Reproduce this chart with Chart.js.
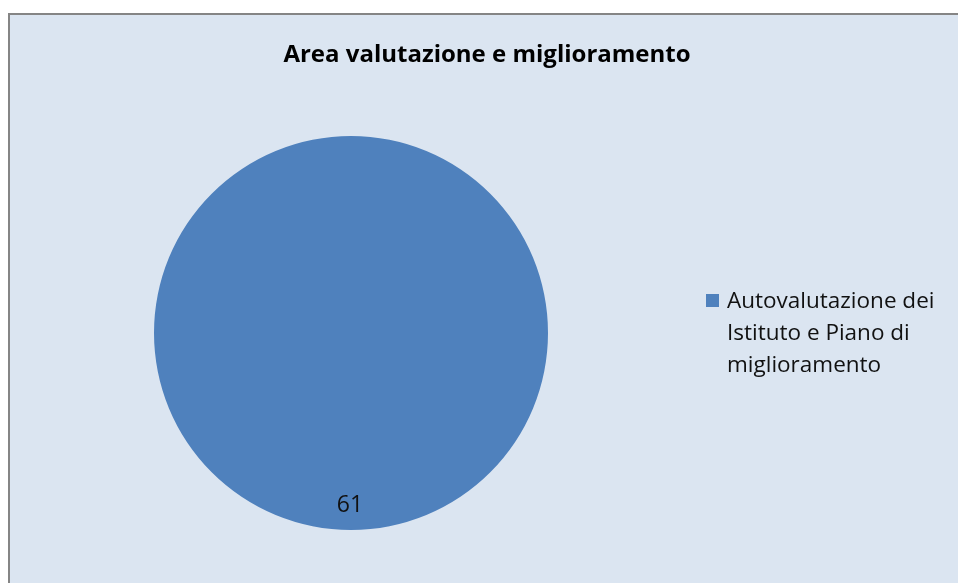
<!DOCTYPE html>
<html>
<head>
<meta charset="utf-8">
<script src="https://cdn.jsdelivr.net/npm/chart.js@4/dist/chart.umd.min.js"></script>
<style>
  html, body { margin: 0; padding: 0; background: #fff; }
  #wrap { position: relative; width: 958px; height: 583px; }
</style>
</head>
<body>
<div id="wrap"><canvas id="pie" width="958" height="583"></canvas></div>
<script>
// chart data
const chartTitle = 'Area valutazione e miglioramento';
const categories = [['Autovalutazione dei', 'Istituto e Piano di', 'miglioramento']];
const values = [61];
const colors = ['#4F81BD'];

const FONT = '"Open Sans", "Liberation Sans", sans-serif';

// background panel, title, value labels and legend drawn around the pie
const decor = {
  id: 'decor',
  beforeDraw(chart) {
    const ctx = chart.ctx;
    ctx.save();
    ctx.fillStyle = '#DBE5F1';
    ctx.fillRect(9, 14, chart.width, chart.height);
    ctx.strokeStyle = '#858585';
    ctx.lineWidth = 2;
    ctx.beginPath();
    ctx.moveTo(9, chart.height + 2);
    ctx.lineTo(9, 14);
    ctx.lineTo(chart.width + 2, 14);
    ctx.stroke();
    ctx.restore();
  },
  afterDraw(chart) {
    const ctx = chart.ctx;
    ctx.save();
    // title
    ctx.fillStyle = '#000';
    ctx.font = `bold 24px ${FONT}`;
    ctx.textAlign = 'center';
    ctx.textBaseline = 'alphabetic';
    ctx.fillText(chartTitle, 487, 62);

    // value labels inside slices
    const meta = chart.getDatasetMeta(0);
    ctx.font = `23px ${FONT}`;
    ctx.fillStyle = '#111';
    meta.data.forEach((arc, i) => {
      const p = arc.getProps(['x', 'y', 'startAngle', 'endAngle', 'outerRadius']);
      const mid = (p.startAngle + p.endAngle) / 2;
      const r = p.outerRadius * 0.86;
      ctx.fillText(String(chart.data.datasets[0].data[i]), p.x + Math.cos(mid) * r - 1, p.y + Math.sin(mid) * r + 10);
    });

    // legend
    let y = 308;
    categories.forEach((lines, i) => {
      ctx.fillStyle = colors[i];
      ctx.fillRect(706, y - 14, 13, 13);
      ctx.fillStyle = '#111';
      ctx.font = `22.5px ${FONT}`;
      ctx.textAlign = 'left';
      lines.forEach((line, j) => {
        ctx.fillText(line, 727, y + j * 32);
      });
      y += lines.length * 32 + 10;
    });
    ctx.restore();
  }
};

new Chart(document.getElementById('pie'), {
  type: 'pie',
  data: {
    labels: categories,
    datasets: [{
      data: values,
      backgroundColor: colors,
      borderWidth: 0,
    }],
  },
  options: {
    responsive: false,
    animation: false,
    layout: { padding: { left: 154, right: 410, top: 136, bottom: 53 } },
    plugins: {
      legend: { display: false },
      title: { display: false },
      tooltip: { enabled: false },
    },
  },
  plugins: [decor],
});
</script>
</body>
</html>
